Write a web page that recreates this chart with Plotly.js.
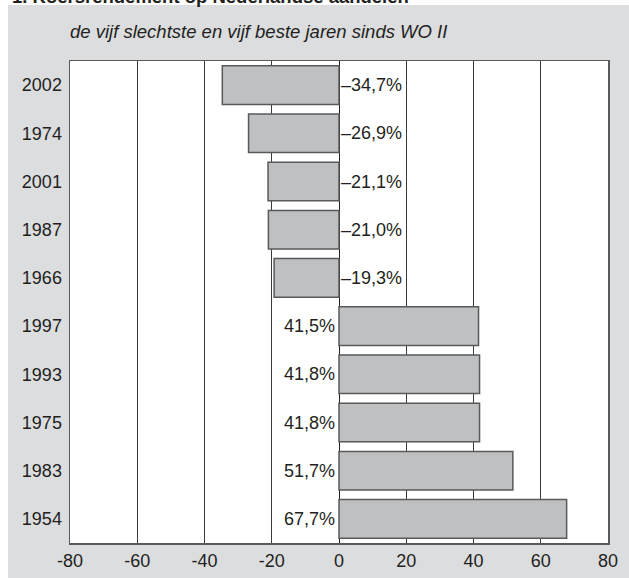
<!DOCTYPE html>
<html>
<head>
<meta charset="utf-8">
<script src="https://cdn.plot.ly/plotly-3.0.1.min.js"></script>
<style>
html,body{margin:0;padding:0;background:#fff;}
#chart{width:629px;height:578px;}
</style>
</head>
<body>
<div id="chart"></div>
<script>
// Data
const years = ["2002", "1974", "2001", "1987", "1966", "1997", "1993", "1975", "1983", "1954"];
const returns = [-34.7, -26.9, -21.1, -21.0, -19.3, 41.5, 41.8, 41.8, 51.7, 67.7];
const xTicks = [-80, -60, -40, -20, 0, 20, 40, 60, 80];
const titleText = "1. Koersrendement op Nederlandse aandelen";
const subtitleText = "de vijf slechtste en vijf beste jaren sinds WO II";

const W = 629, H = 578;
const L = 70, R = 608, T = 61, B = 543;
const px = x => (x - L) / (R - L);
const py = y => (B - y) / (B - T);

const fmt = v => (v < 0 ? "\u2013" : "") + Math.abs(v).toFixed(1).replace(".", ",") + "%";
const pos = years.map((_, i) => i);

const font = "'Liberation Sans', Arial, sans-serif";
const txt = "#231f20";

const trace = {
  type: "bar",
  orientation: "h",
  y: pos,
  x: returns,
  width: 0.8,
  marker: {color: "#bfc0c2", line: {color: "#58595b", width: 1.5}},
  hoverinfo: "skip"
};

const annotations = pos.map(i => ({
  x: 0, y: i, xref: "x", yref: "y",
  text: fmt(returns[i]),
  showarrow: false,
  xanchor: returns[i] < 0 ? "left" : "right",
  xshift: returns[i] < 0 ? 0 : -2,
  font: {family: font, size: 18, color: txt}
}));

annotations.push({
  xref: "paper", yref: "paper",
  x: px(10), y: py(9), xanchor: "left", yanchor: "bottom",
  text: "<b>" + titleText + "</b>",
  showarrow: false,
  font: {family: font, size: 18.5, color: txt}
});
annotations.push({
  xref: "paper", yref: "paper",
  x: px(68), y: py(32), xanchor: "left", yanchor: "middle",
  text: "<i>" + subtitleText + "</i>",
  showarrow: false,
  font: {family: font, size: 18.5, color: txt}
});

const layout = {
  width: W, height: H,
  margin: {l: L, r: W - R, t: T, b: H - B, pad: 0},
  paper_bgcolor: "#dcdddf",
  plot_bgcolor: "#ffffff",
  showlegend: false,
  bargap: 0.2,
  xaxis: {
    range: [-80, 80],
    tickvals: xTicks,
    ticktext: xTicks.map(String),
    showgrid: true, gridcolor: "#3a3a3a", gridwidth: 1,
    zeroline: true, zerolinecolor: "#231f20", zerolinewidth: 1,
    showline: true, mirror: true, linecolor: "#58595b", linewidth: 1.5,
    ticks: "", ticklabelstandoff: 1,
    tickfont: {family: font, size: 18, color: txt},
    fixedrange: true
  },
  yaxis: {
    type: "linear",
    range: [years.length - 0.5, -0.5],
    tickvals: pos,
    ticktext: years,
    showgrid: false, zeroline: false,
    showline: true, mirror: true, linecolor: "#58595b", linewidth: 1.5,
    ticks: "", ticklabelstandoff: 3,
    tickfont: {family: font, size: 18, color: txt},
    fixedrange: true
  },
  shapes: [
    {type: "rect", xref: "paper", yref: "paper", layer: "below",
     x0: px(-5), x1: px(8), y0: py(H + 5), y1: py(-5),
     fillcolor: "#ffffff", line: {width: 0}},
    {type: "rect", xref: "paper", yref: "paper", layer: "below",
     x0: px(-5), x1: px(W + 5), y0: py(5), y1: py(-5),
     fillcolor: "#ffffff", line: {width: 0}}
  ],
  annotations: annotations
};

Plotly.newPlot("chart", [trace], layout, {displayModeBar: false, staticPlot: true});
</script>
</body>
</html>
